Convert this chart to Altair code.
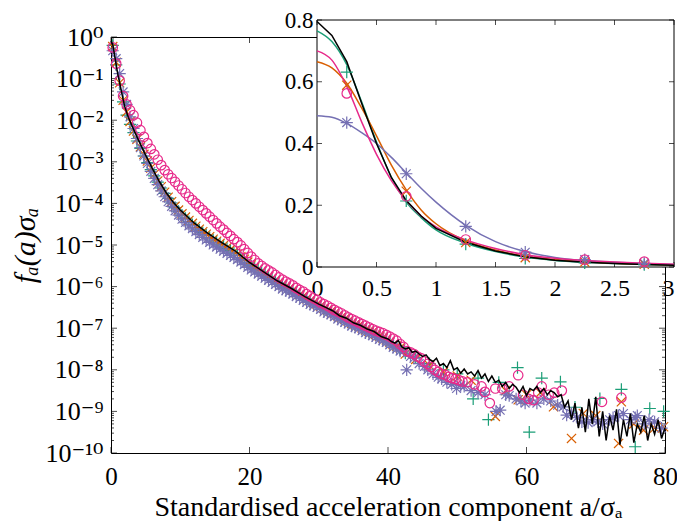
import altair as alt
import pandas as pd

# ---------------- data (log10 of f_a(a) sigma_a) ----------------
X_DENSE = [0.25, 0.75, 1.25, 1.75, 2.25, 2.75, 3.25, 3.75, 4.25, 4.75,
           5.25, 5.75, 6.25, 6.75, 7.25, 7.75, 8.25, 8.75, 9.25, 9.75,
           10.25, 10.75, 11.25, 11.75, 12.25, 12.75, 13.25, 13.75, 14.25, 14.75,
           15.25, 15.75, 16.25, 16.75, 17.25, 17.75, 18.25, 18.75, 19.25, 19.75,
           20.25, 20.75, 21.25, 21.75, 22.25, 22.75, 23.25, 23.75, 24.25, 24.75,
           25.25, 25.75, 26.25, 26.75, 27.25, 27.75, 28.25, 28.75, 29.25, 29.75,
           30.25, 30.75, 31.25, 31.75, 32.25, 32.75, 33.25, 33.75, 34.25, 34.75,
           35.25, 35.75, 36.25, 36.75, 37.25, 37.75, 38.25, 38.75, 39.25, 39.75,
           40.25, 40.75, 41.25, 41.75]

GREEN_DENSE = [-0.20, -0.67, -1.13, -1.56, -1.88, -2.10, -2.30, -2.50, -2.68, -2.86,
               -3.02, -3.19, -3.34, -3.49, -3.63, -3.76, -3.88, -3.99, -4.10, -4.19,
               -4.28, -4.36, -4.44, -4.51, -4.58, -4.64, -4.70, -4.76, -4.82, -4.88,
               -4.93, -4.98, -5.03, -5.08, -5.13, -5.19, -5.24, -5.30, -5.36, -5.43,
               -5.50, -5.55, -5.60, -5.66, -5.71, -5.77, -5.82, -5.87, -5.92, -5.97,
               -6.02, -6.05, -6.10, -6.16, -6.20, -6.24, -6.30, -6.36, -6.40, -6.43,
               -6.48, -6.54, -6.57, -6.61, -6.66, -6.72, -6.75, -6.79, -6.84, -6.89,
               -6.92, -6.95, -7.00, -7.05, -7.08, -7.11, -7.16, -7.21, -7.25, -7.29,
               -7.35, -7.41, -7.45, -7.49]
ORANGE_DENSE = [-0.23, -0.61, -1.10, -1.52, -1.80, -2.03, -2.26, -2.46, -2.64, -2.82,
                -2.98, -3.15, -3.30, -3.46, -3.60, -3.73, -3.85, -3.96, -4.07, -4.16,
                -4.25, -4.33, -4.41, -4.48, -4.55, -4.62, -4.68, -4.74, -4.80, -4.86,
                -4.91, -4.96, -5.01, -5.06, -5.11, -5.16, -5.22, -5.28, -5.34, -5.41,
                -5.48, -5.53, -5.58, -5.64, -5.69, -5.75, -5.80, -5.85, -5.90, -5.95,
                -6.00, -6.04, -6.09, -6.15, -6.19, -6.23, -6.29, -6.34, -6.38, -6.42,
                -6.47, -6.52, -6.56, -6.60, -6.65, -6.70, -6.74, -6.78, -6.83, -6.88,
                -6.91, -6.94, -6.99, -7.04, -7.07, -7.10, -7.15, -7.19, -7.23, -7.28,
                -7.33, -7.39, -7.43, -7.47]
PURPLE_DENSE = [-0.33, -0.52, -0.88, -1.32, -1.62, -1.92, -2.20, -2.44, -2.66, -2.86,
                -3.04, -3.23, -3.40, -3.55, -3.70, -3.84, -3.96, -4.07, -4.18, -4.28,
                -4.38, -4.46, -4.54, -4.61, -4.68, -4.75, -4.82, -4.88, -4.94, -5.00,
                -5.05, -5.10, -5.15, -5.20, -5.25, -5.30, -5.35, -5.41, -5.47, -5.54,
                -5.60, -5.65, -5.70, -5.75, -5.80, -5.85, -5.90, -5.95, -6.00, -6.06,
                -6.10, -6.13, -6.18, -6.24, -6.28, -6.33, -6.38, -6.43, -6.46, -6.50,
                -6.55, -6.61, -6.64, -6.68, -6.72, -6.78, -6.82, -6.86, -6.90, -6.95,
                -6.98, -7.01, -7.06, -7.11, -7.14, -7.18, -7.22, -7.27, -7.30, -7.34,
                -7.40, -7.46, -7.50, -7.55]
PINK_DENSE = [-0.25, -0.64, -1.05, -1.42, -1.62, -1.76, -1.88, -2.06, -2.24, -2.40,
              -2.55, -2.69, -2.82, -2.95, -3.08, -3.20, -3.30, -3.39, -3.48, -3.57,
              -3.66, -3.75, -3.84, -3.92, -4.00, -4.08, -4.16, -4.24, -4.32, -4.40,
              -4.48, -4.56, -4.63, -4.71, -4.78, -4.86, -4.93, -5.01, -5.10, -5.19,
              -5.28, -5.36, -5.44, -5.50, -5.56, -5.61, -5.66, -5.72, -5.78, -5.83,
              -5.88, -5.92, -5.97, -6.03, -6.08, -6.12, -6.18, -6.23, -6.28, -6.32,
              -6.38, -6.42, -6.46, -6.51, -6.56, -6.60, -6.64, -6.69, -6.74, -6.78,
              -6.82, -6.86, -6.90, -6.94, -6.98, -7.02, -7.06, -7.09, -7.12, -7.16,
              -7.20, -7.25, -7.30, -7.38]

GREEN_TAIL = [(42.5, -7.60), (44.0, -7.70), (46.0, -7.85), (48.0, -8.00), (50.0, -8.10),
              (52.3, -8.70), (53.0, -8.20), (54.5, -9.20), (56.0, -8.30), (58.7, -7.95),
              (60.4, -9.50), (62.2, -8.20), (64.9, -8.29), (67.0, -8.90), (70.6, -8.69),
              (73.7, -8.47), (75.7, -9.85), (77.8, -8.93), (79.8, -9.00)]
ORANGE_TAIL = [(42.5, -7.62), (44.0, -7.75), (46.0, -7.90), (48.0, -8.05), (50.0, -8.15),
               (52.0, -8.25), (55.5, -9.12), (57.0, -8.50), (58.8, -8.72), (60.0, -8.60),
               (62.0, -8.55), (63.9, -8.89), (66.5, -9.65), (68.2, -9.05), (70.0, -9.10),
               (73.3, -9.77), (73.7, -8.77), (75.5, -9.30), (76.9, -9.45), (78.5, -9.40),
               (79.8, -9.37)]
PURPLE_TAIL = [(42.25, -7.55), (42.7, -8.00), (43.25, -7.68), (43.75, -7.72), (44.5, -7.85),
               (45.25, -7.92), (45.75, -8.00), (46.5, -8.10), (47.25, -8.18), (47.75, -8.22),
               (48.5, -8.30), (49.2, -8.35), (49.9, -8.45), (50.5, -8.38), (51.0, -8.40),
               (52.0, -8.50), (53.0, -8.55), (54.0, -8.60), (55.6, -9.00), (56.2, -8.97),
               (57.0, -8.60), (57.5, -8.62), (58.5, -8.70), (59.2, -8.75), (59.8, -8.80),
               (60.5, -8.73), (61.5, -8.80), (62.5, -8.70), (63.5, -8.75), (64.5, -8.85),
               (65.3, -8.89), (65.8, -9.09), (66.5, -9.05), (67.3, -9.15), (68.0, -9.25),
               (68.9, -9.27), (69.6, -9.20), (70.3, -9.25), (71.0, -9.30), (72.0, -9.20),
               (72.5, -9.15), (73.3, -9.10), (74.0, -9.05), (75.0, -9.20), (75.7, -9.15),
               (76.0, -9.10), (77.0, -9.30), (77.7, -9.20), (78.5, -9.25), (79.5, -9.40)]
PINK_TAIL = [(42.25, -7.45), (42.75, -7.55), (43.25, -7.58), (43.75, -7.62), (44.25, -7.68),
             (44.75, -7.72), (45.25, -7.80), (45.75, -7.86), (46.25, -7.93), (46.75, -8.00),
             (47.25, -8.05), (47.75, -8.10), (48.25, -8.12), (48.75, -8.17), (49.25, -8.20),
             (49.75, -8.22), (50.25, -8.25), (50.75, -8.28), (51.5, -8.30), (52.5, -8.35),
             (53.5, -8.40), (54.0, -8.53), (54.7, -8.80), (55.5, -8.45), (56.5, -8.45),
             (57.5, -8.40), (58.8, -8.13), (59.5, -8.60), (60.3, -8.70), (61.0, -8.73),
             (61.7, -8.55), (62.2, -8.40), (63.2, -8.60), (64.0, -8.55), (65.1, -8.50),
             (70.9, -8.77), (73.7, -8.67)]

BLACK_HEAD = [(0, -0.10), (0.25, -0.18), (0.5, -0.42), (0.75, -0.67), (1.0, -0.91),
              (1.25, -1.10), (1.5, -1.30), (1.75, -1.50), (2.0, -1.68), (2.5, -1.93),
              (3.0, -2.12), (3.5, -2.31), (4.0, -2.49), (5.0, -2.84), (6.0, -3.17),
              (7.0, -3.48), (8.0, -3.75), (9.0, -3.97), (10.0, -4.16), (12.0, -4.47),
              (14.0, -4.72), (16.0, -4.94), (18.0, -5.15), (20.0, -5.42), (22.0, -5.64),
              (24.0, -5.86), (26.0, -6.04), (28.0, -6.24), (30.0, -6.42), (31.0, -6.50),
              (32.0, -6.58), (33.0, -6.70), (34.0, -6.76), (35.0, -6.87), (36.0, -6.93),
              (37.0, -7.02), (38.0, -7.08), (39.0, -7.20), (40.0, -7.26)]
BLACK_TAIL = [(40.5, -7.32), (41.0, -7.36), (41.5, -7.30), (42.0, -7.45), (42.5, -7.50),
              (43.0, -7.47), (43.5, -7.58), (44.0, -7.55), (44.5, -7.62), (45.0, -7.68),
              (45.5, -7.64), (46.0, -7.75), (46.5, -7.80), (47.0, -7.72), (47.5, -7.90),
              (48.0, -7.85), (48.5, -7.95), (49.0, -7.78), (49.5, -8.00), (50.0, -7.95),
              (50.5, -8.08), (51.0, -7.98), (51.5, -8.10), (52.0, -8.05), (52.5, -8.15),
              (53.0, -8.02), (53.5, -8.20), (54.0, -8.10), (54.5, -8.28), (55.0, -8.15),
              (55.5, -8.30), (56.0, -8.25), (56.5, -8.40), (57.0, -8.30), (57.5, -8.45),
              (58.0, -8.35), (58.5, -8.42), (59.0, -8.55), (59.5, -8.40), (60.0, -8.62),
              (60.5, -8.45), (61.0, -8.50), (61.5, -8.40), (62.0, -8.55), (62.5, -8.45),
              (63.0, -8.60), (63.5, -8.50), (64.0, -8.55), (64.5, -8.65), (65.0, -8.60),
              (65.5, -8.90), (66.0, -8.75), (66.5, -9.20), (67.0, -8.80), (67.5, -9.40),
              (68.0, -8.90), (68.5, -9.50), (69.0, -8.70), (69.5, -9.30), (70.0, -8.65),
              (70.5, -9.60), (71.0, -9.00), (71.5, -9.70), (72.0, -9.10), (72.5, -9.45),
              (73.0, -8.95), (73.5, -9.80), (74.0, -9.20), (74.5, -9.60), (75.0, -9.05),
              (75.5, -9.75), (76.0, -9.30), (76.5, -9.50), (77.0, -9.10), (77.5, -9.70),
              (78.0, -9.30), (78.5, -9.55), (79.0, -9.20), (79.5, -9.65), (80.0, -9.40)]

# inset smooth curves (linear values)
INSET_X = [0, 0.125, 0.25, 0.375, 0.5, 0.625, 0.75, 0.875, 1.0, 1.25, 1.5, 1.75, 2.0,
           2.25, 2.5, 2.75, 3.0]
BLACK_INSET = [0.795, 0.75, 0.665, 0.53, 0.40, 0.29, 0.215, 0.165, 0.125, 0.08, 0.052,
               0.033, 0.022, 0.015, 0.011, 0.008, 0.006]
GREEN_INSET = [0.765, 0.73, 0.655, 0.535, 0.405, 0.29, 0.21, 0.16, 0.12, 0.077, 0.05,
               0.032, 0.021, 0.015, 0.011, 0.008, 0.006]
ORANGE_INSET = [0.665, 0.645, 0.595, 0.515, 0.425, 0.33, 0.25, 0.185, 0.14, 0.085, 0.055,
                0.035, 0.024, 0.017, 0.012, 0.009, 0.007]
PINK_INSET = [0.70, 0.67, 0.585, 0.47, 0.365, 0.28, 0.215, 0.165, 0.13, 0.088, 0.06,
              0.04, 0.028, 0.021, 0.016, 0.012, 0.009]
PURPLE_INSET = [0.49, 0.485, 0.465, 0.435, 0.40, 0.355, 0.305, 0.255, 0.21, 0.135, 0.082,
                0.05, 0.031, 0.021, 0.015, 0.011, 0.008]

MAIN_X_TICKS = [0, 20, 40, 60, 80]
MAIN_Y_TICKS = [1e-10, 1e-9, 1e-8, 1e-7, 1e-6, 1e-5, 1e-4, 1e-3, 1e-2, 1e-1, 1e0]
MAIN_Y_LABELS = ['10⁰', '10⁻¹', '10⁻²', '10⁻³', '10⁻⁴', '10⁻⁵', '10⁻⁶', '10⁻⁷',
                 '10⁻⁸', '10⁻⁹', '10⁻¹⁰']
MAIN_Y_MINOR = [m * 10.0 ** k for k in range(-10, 0) for m in range(2, 10)]
INSET_X_TICKS = [0, 0.5, 1, 1.5, 2, 2.5, 3]
INSET_Y_TICKS = [0, 0.2, 0.4, 0.6, 0.8]

GREEN, ORANGE, PURPLE, PINK = "#1b9e77", "#d95f02", "#7570b3", "#e7298a"
FONT = "'Liberation Serif', 'Times New Roman', 'DejaVu Serif', serif"
W, H = 554, 416

PLUS = "M-1,0L1,0M0,-1L0,1"
XMARK = "M-0.75,-0.75L0.75,0.75M-0.75,0.75L0.75,-0.75"
STAR = "M-1,0L1,0M0,-1L0,1M-0.72,-0.72L0.72,0.72M-0.72,0.72L0.72,-0.72"


def logs_df(xs, logs):
    return pd.DataFrame({"x": list(xs), "y": [10.0 ** v for v in logs]})


def series_df(dense, tail):
    d = logs_df(X_DENSE, dense)
    t = logs_df([p[0] for p in tail], [p[1] for p in tail])
    return pd.concat([d, t], ignore_index=True)


green_df = series_df(GREEN_DENSE, GREEN_TAIL)
orange_df = series_df(ORANGE_DENSE, ORANGE_TAIL)
purple_df = series_df(PURPLE_DENSE, PURPLE_TAIL)
pink_df = series_df(PINK_DENSE, PINK_TAIL)
black_pts = BLACK_HEAD + BLACK_TAIL
black_df = logs_df([p[0] for p in black_pts], [p[1] for p in black_pts])

# ---------------- main plot ----------------
xsc = alt.Scale(domain=[0, 80], nice=False, zero=False)
ysc = alt.Scale(type="log", domain=[1e-10, 1], nice=False)
label_expr = "[" + ",".join("'%s'" % s for s in MAIN_Y_LABELS) + "][round(-log(datum.value)/LN10)]"

xax = alt.Axis(orient="bottom", values=MAIN_X_TICKS, format="d",
               title="Standardised acceleration component a/σₐ",
               grid=False, domain=False, ticks=False, tickSize=0,
               labelFont=FONT, titleFont=FONT, labelColor="black", titleColor="black",
               labelFontSize=25, labelPadding=11, labelFlush=False, labelOverlap=False,
               titleFontSize=28, titleY=62, titleBaseline="alphabetic",
               titleFontWeight="normal")
yax = alt.Axis(orient="left", values=MAIN_Y_TICKS, labelExpr=label_expr,
               title="fₐ(a)σₐ", titleFontStyle="italic",
               grid=False, domain=False, ticks=False, tickSize=0,
               labelFont=FONT, titleFont=FONT, labelColor="black", titleColor="black",
               labelFontSize=26, labelPadding=8, labelOverlap=False, labelFlush=False,
               titleFontSize=30, titleX=-86, titleBaseline="middle",
               titleFontWeight="normal")


def mx():
    return alt.X("x:Q", scale=xsc, axis=xax)


def my():
    return alt.Y("y:Q", scale=ysc, axis=yax)


def pts(df, shape, color, size):
    return alt.Chart(df).mark_point(shape=shape, filled=False, color=color, size=size,
                                    strokeWidth=1.2, opacity=1).encode(x=mx(), y=my())


xt_df = pd.DataFrame({"x": MAIN_X_TICKS})
yt_df = pd.DataFrame({"y": MAIN_Y_TICKS})
ym_df = pd.DataFrame({"y": MAIN_Y_MINOR})


def xticks(df, ydatum, off, size):
    return alt.Chart(df).mark_tick(orient="vertical", size=size, thickness=1, color="black",
                                   yOffset=off).encode(
        x=mx(), y=alt.YDatum(ydatum, scale=ysc, axis=yax))


def yticks(df, xdatum, off, size):
    return alt.Chart(df).mark_tick(orient="horizontal", size=size, thickness=1, color="black",
                                   xOffset=off).encode(
        x=alt.XDatum(xdatum, scale=xsc, axis=xax), y=my())


main = alt.layer(
    xticks(xt_df, 1e-10, -3, 6),
    xticks(xt_df, 1, 3, 6),
    yticks(yt_df, 0, 3, 6),
    yticks(yt_df, 80, -3, 6),
    yticks(ym_df, 0, 1.5, 3),
    yticks(ym_df, 80, -1.5, 3),
    pts(green_df, PLUS, GREEN, 150),
    pts(orange_df, XMARK, ORANGE, 150),
    pts(purple_df, STAR, PURPLE, 150),
    pts(pink_df, "circle", PINK, 90),
    alt.Chart(black_df).mark_line(color="black", strokeWidth=1.5).encode(x=mx(), y=my()),
)

# ---------------- inset ----------------
isx = alt.Scale(domain=[0, 3], range=[206, 563], nice=False, zero=False)
isy = alt.Scale(domain=[0, 0.8], range=[230, -17], nice=False, zero=False)
ixax = alt.Axis(orient="bottom", offset=-186, values=INSET_X_TICKS, format="~g", title=None,
                grid=False, domain=False, ticks=False, tickSize=0,
                labelFont=FONT, labelColor="black", labelFontSize=24,
                labelAlign={"expr": "datum.value == 3 ? 'right' : 'center'"},
                labelPadding=9, labelFlush=False, labelOverlap=False)
iyax = alt.Axis(orient="left", offset=-206, values=INSET_Y_TICKS, title=None,
                labelExpr="datum.value == 0 ? '0' : format(datum.value, '.1f')",
                grid=False, domain=False, ticks=False, tickSize=0,
                labelFont=FONT, labelColor="black", labelFontSize=23,
                labelPadding=4, labelFlush=False, labelOverlap=False)


def ix():
    return alt.X("x:Q", scale=isx, axis=ixax)


def iy():
    return alt.Y("y:Q", scale=isy, axis=iyax)


def inset_line(vals, color, interp):
    df = pd.DataFrame({"x": INSET_X, "y": vals})
    return alt.Chart(df).mark_line(color=color, strokeWidth=1.5, interpolate=interp).encode(
        x=ix(), y=iy())


def inset_pts(df, shape, color, size):
    d = df[df["x"] <= 3]
    return alt.Chart(d).mark_point(shape=shape, filled=False, color=color, size=size,
                                   strokeWidth=1.2, opacity=1).encode(x=ix(), y=iy())


ixt_df = pd.DataFrame({"x": INSET_X_TICKS})
iyt_df = pd.DataFrame({"y": INSET_Y_TICKS})


def ixticks(ydatum, off):
    return alt.Chart(ixt_df).mark_tick(orient="vertical", size=5, thickness=1, color="black",
                                       yOffset=off).encode(
        x=ix(), y=alt.YDatum(ydatum, scale=isy, axis=iyax))


def iyticks(xdatum, off):
    return alt.Chart(iyt_df).mark_tick(orient="horizontal", size=5, thickness=1, color="black",
                                       xOffset=off).encode(
        x=alt.XDatum(xdatum, scale=isx, axis=ixax), y=iy())


frame = alt.Chart(pd.DataFrame({"k": [0]})).mark_rect(
    fill="white", stroke="black", strokeWidth=1).encode(
    x=alt.XDatum(0, scale=isx, axis=ixax), x2=alt.datum(3),
    y=alt.YDatum(0, scale=isy, axis=iyax), y2=alt.datum(0.8))

inset = alt.layer(
    frame,
    ixticks(0, -2.5), ixticks(0.8, 2.5), iyticks(0, 2.5), iyticks(3, -2.5),
    inset_line(GREEN_INSET, GREEN, "monotone"),
    inset_line(ORANGE_INSET, ORANGE, "monotone"),
    inset_line(PURPLE_INSET, PURPLE, "monotone"),
    inset_line(PINK_INSET, PINK, "monotone"),
    inset_line(BLACK_INSET, "black", "linear"),
    inset_pts(green_df, PLUS, GREEN, 150),
    inset_pts(orange_df, XMARK, ORANGE, 150),
    inset_pts(purple_df, STAR, PURPLE, 150),
    inset_pts(pink_df, "circle", PINK, 90),
)

chart = alt.layer(main, inset).resolve_scale(x="independent", y="independent").properties(
    width=W, height=H,
    autosize=alt.AutoSizeParams(type="none"),
    padding={"left": 103, "top": 29, "right": 12, "bottom": 68},
).configure(font=FONT).configure_view(stroke="black", strokeWidth=1)

chart.save("out.html", embed_options={"renderer": "svg", "actions": False})
